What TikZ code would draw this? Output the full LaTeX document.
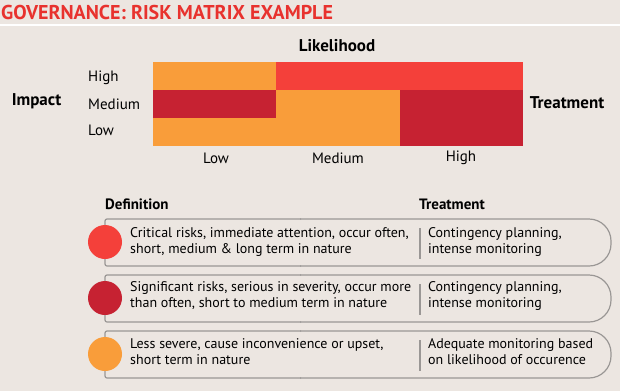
\documentclass[tikz,border=0pt]{standalone}
\usepackage{fontspec}
\setmainfont{PT Sans}
\definecolor{bg}{HTML}{ECE6E1}
\definecolor{orng}{HTML}{F99D3A}
\definecolor{brred}{HTML}{F4403A}
\definecolor{dkred}{HTML}{C62232}
\definecolor{ttl}{HTML}{E8322E}
\definecolor{lin}{HTML}{9A9795}
\tikzset{
  lbl/.style={inner sep=0pt, font=\fontsize{15}{17}\selectfont},
  hdr/.style={inner sep=0pt, font=\fontsize{17}{19}\selectfont\bfseries},
  thdr/.style={inner sep=0pt, anchor=west, font=\fontsize{15}{17}\selectfont\bfseries},
  body/.style={inner sep=0pt, align=left, anchor=west, font=\fontsize{14}{16}\selectfont},
  boxline/.style={draw=lin, line width=1.2pt},
  sep/.style={draw=lin, line width=1.2pt},
  dot/.style={circle, minimum size=34pt, inner sep=0pt, draw=none}
}
\begin{document}
\begin{tikzpicture}[x=1pt,y=-1pt]
\fill[bg] (0,0) rectangle (620,391);
\useasboundingbox (0,0) rectangle (620,391);
\draw[white, line width=2pt] (0,25) -- (620,25);
\node[anchor=west, inner sep=0pt, text=ttl, font=\fontsize{20}{22}\selectfont\bfseries] (title) at (1,12) {GOVERNANCE: RISK MATRIX EXAMPLE};
% matrix
\fill[orng]  (153,62) rectangle (276.5,90);
\fill[brred] (276,62) rectangle (523,90);
\fill[dkred] (153,90) rectangle (276,118);
\fill[orng]  (276,90) rectangle (400.5,118);
\fill[dkred] (400,90) rectangle (523,118);
\fill[orng]  (153,118) rectangle (400.5,146);
\fill[dkred] (400,118) rectangle (523,146);
\node[hdr] (likelihood) at (337,46) {Likelihood};
\node[hdr] (impact) at (36.5,101) {Impact};
\node[hdr] (treat1) at (567,103) {Treatment};
\node[lbl, anchor=west] (rh) at (88,78) {High};
\node[lbl, anchor=west] (rm) at (88,104) {Medium};
\node[lbl, anchor=west] (rl) at (88,130) {Low};
\node[lbl] (cl) at (216,158) {Low};
\node[lbl] (cm) at (338,158) {Medium};
\node[lbl] (ch) at (461,158) {High};
% table
\node[thdr] (def) at (105,204) {Definition};
\node[thdr] (treat2) at (419,204) {Treatment};
\foreach \t/\c/\n in {219/brred/a, 275/dkred/b, 331/orng/c}{
  \draw[boxline, rounded corners=2pt] (301,\t) -- (105,\t) -- (105,\t+47) -- (301,\t+47);
  \draw[boxline, rounded corners=22pt] (300,\t) -- (611,\t) -- (611,\t+47) -- (300,\t+47);
  \draw[sep] (420,\t+9) -- (420,\t+40);
  \node[dot, fill=\c] (dot\n) at (105,\t+23) {};
}
\node[body] (d1) at (130,242) {Critical risks, immediate attention, occur often,\\short, medium \& long term in nature};
\node[body] (t1) at (428,242) {Contingency planning,\\intense monitoring};
\node[body] (d2) at (130,296) {Significant risks, serious in severity, occur more\\than often, short to medium term in nature};
\node[body] (t2) at (428,296) {Contingency planning,\\intense monitoring};
\node[body] (d3) at (130,352) {Less severe, cause inconvenience or upset,\\short term in nature};
\node[body] (t3) at (428,352) {Adequate monitoring based\\on likelihood of occurence};
\end{tikzpicture}
\end{document}
